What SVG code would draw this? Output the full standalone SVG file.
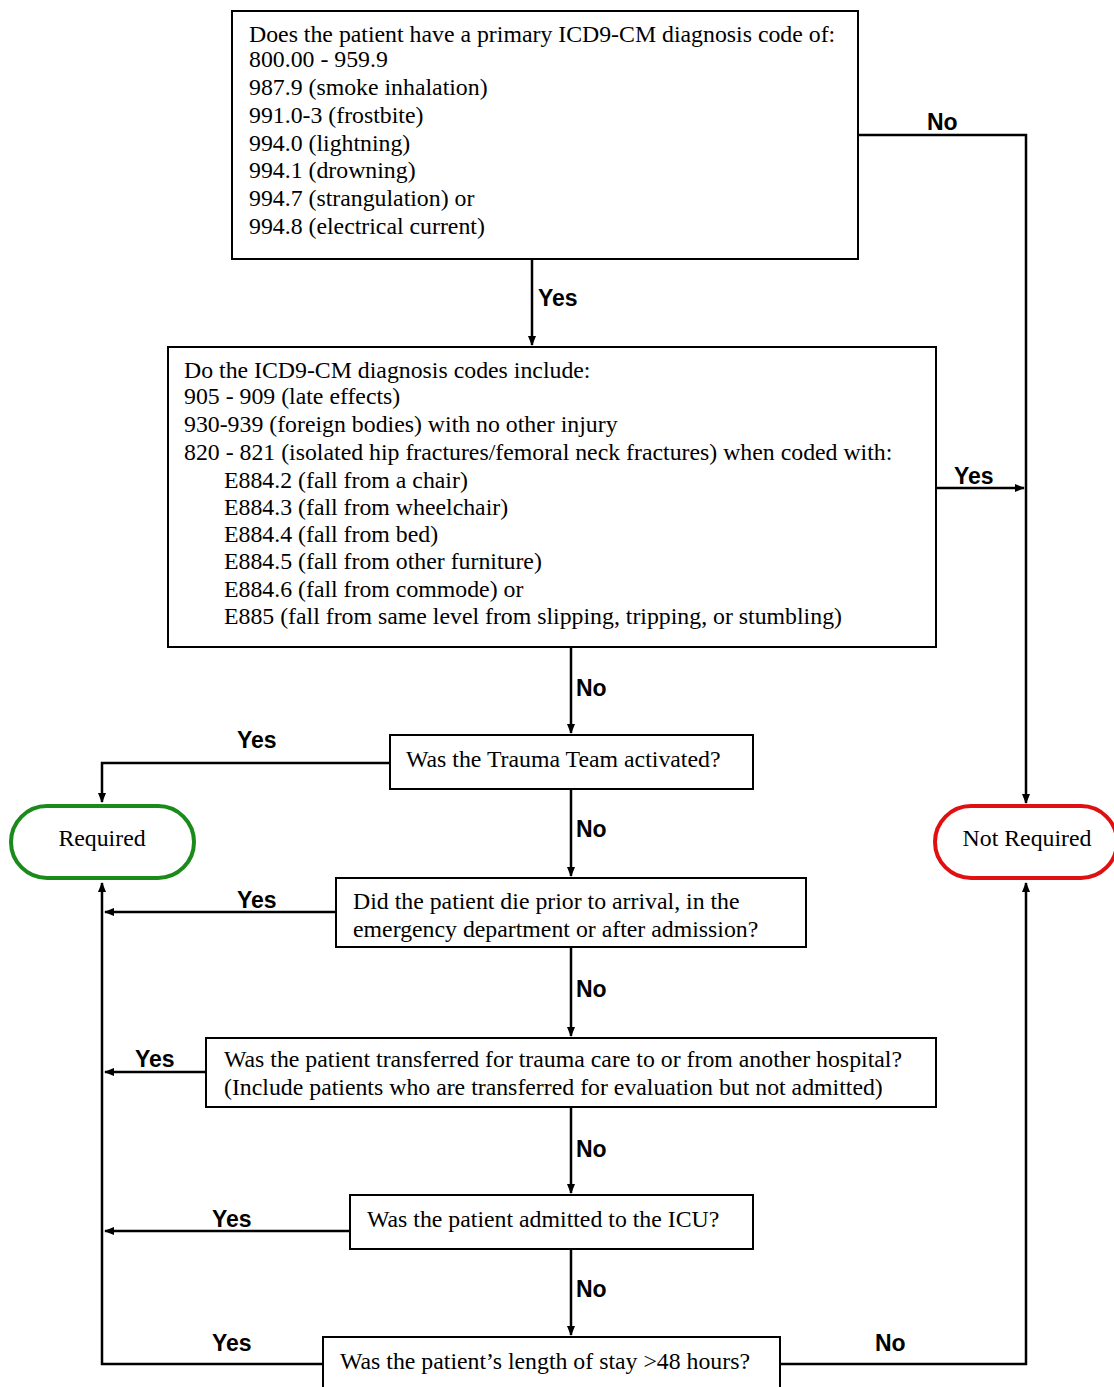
<svg xmlns="http://www.w3.org/2000/svg" width="1114" height="1387" viewBox="0 0 1114 1387">
<defs>
<marker id="ah" markerWidth="10" markerHeight="10" refX="9" refY="5" orient="auto" markerUnits="userSpaceOnUse">
<path d="M0,1 L10,5 L0,9 Z" fill="#000"/>
</marker>
<style>
.box{fill:#fff;stroke:#000;stroke-width:2}
.t{font-family:"Liberation Serif","Times New Roman",serif;font-size:23.8px;fill:#000}
.lbl{font-family:"Liberation Sans",Arial,sans-serif;font-size:23px;font-weight:bold;fill:#000}
.c{fill:none;stroke:#000;stroke-width:2.5}
</style>
</defs>
<rect width="1114" height="1387" fill="#fff"/>
<g id="connectors">
<path class="c" d="M532,259 V345" marker-end="url(#ah)"/>
<path class="c" d="M858,135 H1026 V803" marker-end="url(#ah)"/>
<path class="c" d="M936,488 H1024" marker-end="url(#ah)"/>
<path class="c" d="M571,647 V733" marker-end="url(#ah)"/>
<path class="c" d="M390,763 H102 V802" marker-end="url(#ah)"/>
<path class="c" d="M571,789 V876" marker-end="url(#ah)"/>
<path class="c" d="M336,912 H105" marker-end="url(#ah)"/>
<path class="c" d="M571,947 V1036" marker-end="url(#ah)"/>
<path class="c" d="M206,1072 H105" marker-end="url(#ah)"/>
<path class="c" d="M571,1107 V1193" marker-end="url(#ah)"/>
<path class="c" d="M350,1231 H105" marker-end="url(#ah)"/>
<path class="c" d="M571,1249 V1335" marker-end="url(#ah)"/>
<path class="c" d="M323,1364 H102 V883" marker-end="url(#ah)"/>
<path class="c" d="M780,1364 H1026 V883" marker-end="url(#ah)"/>
<text class="lbl" x="538" y="306">Yes</text>
<text class="lbl" x="927" y="130">No</text>
<text class="lbl" x="954" y="484">Yes</text>
<text class="lbl" x="576" y="696">No</text>
<text class="lbl" x="237" y="748">Yes</text>
<text class="lbl" x="576" y="837">No</text>
<text class="lbl" x="237" y="908">Yes</text>
<text class="lbl" x="576" y="997">No</text>
<text class="lbl" x="135" y="1067">Yes</text>
<text class="lbl" x="576" y="1157">No</text>
<text class="lbl" x="212" y="1227">Yes</text>
<text class="lbl" x="576" y="1297">No</text>
<text class="lbl" x="212" y="1351">Yes</text>
<text class="lbl" x="875" y="1351">No</text>
</g>
<g id="q1">
<rect class="box" x="232" y="11" width="626" height="248"/>
<text class="t" x="249" y="42">Does the patient have a primary ICD9-CM diagnosis code of:</text>
<text class="t" x="249" y="67">800.00 - 959.9</text>
<text class="t" x="249" y="95">987.9 (smoke inhalation)</text>
<text class="t" x="249" y="123">991.0-3 (frostbite)</text>
<text class="t" x="249" y="151">994.0 (lightning)</text>
<text class="t" x="249" y="178">994.1 (drowning)</text>
<text class="t" x="249" y="206">994.7 (strangulation) or</text>
<text class="t" x="249" y="234">994.8 (electrical current)</text>
</g>
<g id="q2">
<rect class="box" x="168" y="347" width="768" height="300"/>
<text class="t" x="184" y="378">Do the ICD9-CM diagnosis codes include:</text>
<text class="t" x="184" y="404">905 - 909 (late effects)</text>
<text class="t" x="184" y="432">930-939 (foreign bodies) with no other injury</text>
<text class="t" x="184" y="460">820 - 821 (isolated hip fractures/femoral neck fractures) when coded with:</text>
<text class="t" x="224" y="488">E884.2 (fall from a chair)</text>
<text class="t" x="224" y="515">E884.3 (fall from wheelchair)</text>
<text class="t" x="224" y="542">E884.4 (fall from bed)</text>
<text class="t" x="224" y="569">E884.5 (fall from other furniture)</text>
<text class="t" x="224" y="597">E884.6 (fall from commode) or</text>
<text class="t" x="224" y="624">E885 (fall from same level from slipping, tripping, or stumbling)</text>
</g>
<g id="q3">
<rect class="box" x="390" y="735" width="363" height="54"/>
<text class="t" x="406" y="767">Was the Trauma Team activated?</text>
</g>
<g id="required">
<rect x="11" y="806" width="183" height="72" rx="36" ry="36" fill="#fff" stroke="#1a8a1a" stroke-width="4"/>
<text class="t" x="102" y="846" text-anchor="middle">Required</text>
</g>
<g id="notrequired">
<rect x="935" y="806" width="182" height="72" rx="36" ry="36" fill="#fff" stroke="#e01010" stroke-width="4"/>
<text class="t" x="1027" y="846" text-anchor="middle">Not Required</text>
</g>
<g id="q4">
<rect class="box" x="336" y="878" width="470" height="69"/>
<text class="t" x="353" y="909">Did the patient die prior to arrival, in the</text>
<text class="t" x="353" y="937">emergency department or after admission?</text>
</g>
<g id="q5">
<rect class="box" x="206" y="1038" width="730" height="69"/>
<text class="t" x="224" y="1067">Was the patient transferred for trauma care to or from another hospital?</text>
<text class="t" x="224" y="1095">(Include patients who are transferred for evaluation but not admitted)</text>
</g>
<g id="q6">
<rect class="box" x="350" y="1195" width="403" height="54"/>
<text class="t" x="367" y="1227">Was the patient admitted to the ICU?</text>
</g>
<g id="q7">
<rect class="box" x="323" y="1337" width="457" height="60"/>
<text class="t" x="340" y="1369">Was the patient’s length of stay &gt;48 hours?</text>
</g>
</svg>
